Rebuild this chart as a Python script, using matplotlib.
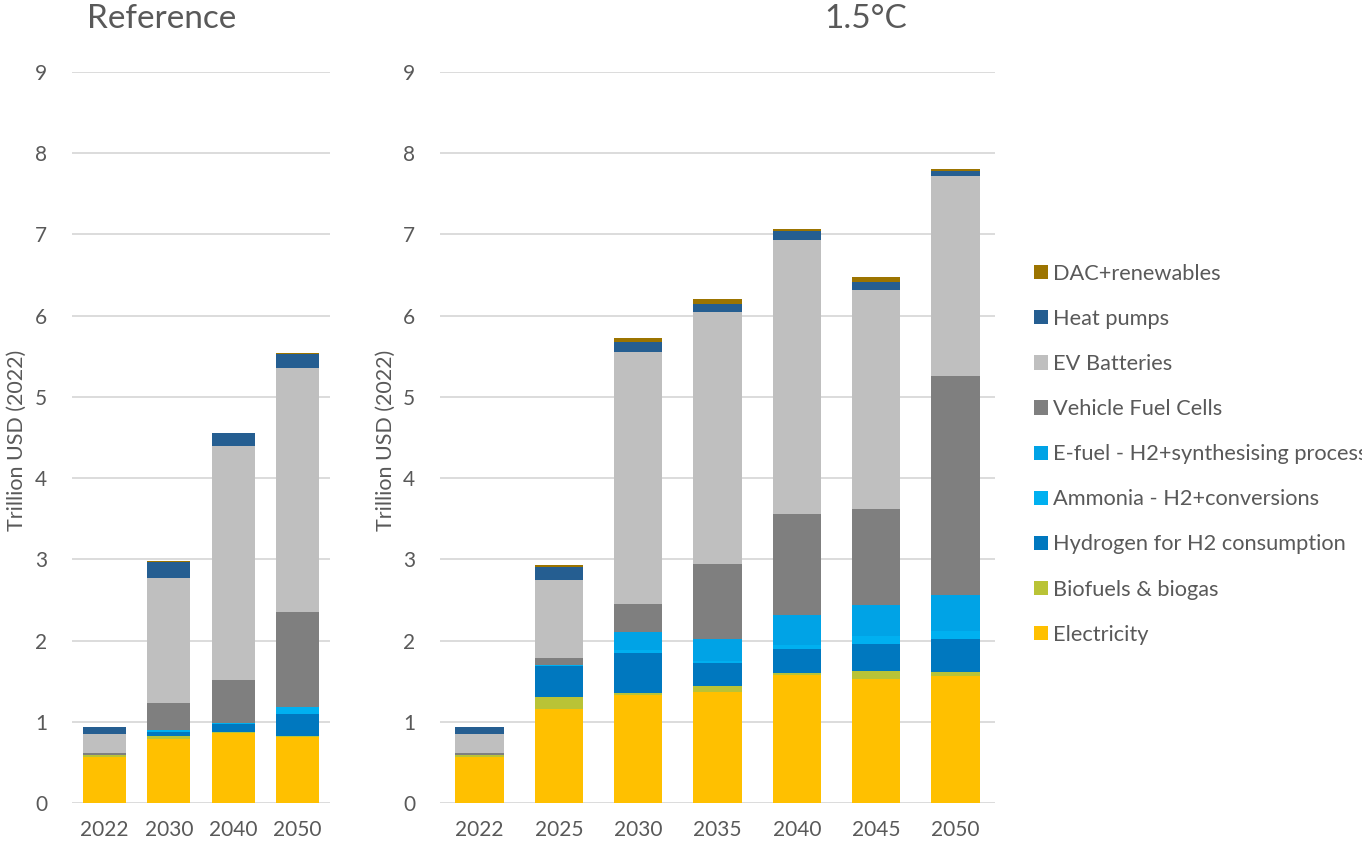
## ============================================================
## Reference vs 1.5°C : stacked bars (Trillion USD 2022)
## ============================================================
import numpy as np
import matplotlib.pyplot as plt
from matplotlib.patches import Patch

plt.rcParams['font.family'] = ['Lato', 'DejaVu Sans']

## ------------------------------------------------------------
## Data
## ------------------------------------------------------------
series_names = ['Electricity', 'Biofuels & biogas', 'Hydrogen for H2 consumption',
                'Ammonia - H2+conversions', 'E-fuel - H2+synthesising process',
                'Vehicle Fuel Cells', 'EV Batteries', 'Heat pumps', 'DAC+renewables']

years_ref       = ['2022', '2030', '2040', '2050']
electricity_ref = [0.57, 0.79, 0.86, 0.81]
biofuels_ref    = [0.02, 0.04, 0.01, 0.02]
hydrogen_ref    = [0.00, 0.04, 0.10, 0.27]
ammonia_ref     = [0.00, 0.03, 0.02, 0.08]
efuel_ref       = [0.00, 0.00, 0.00, 0.00]
fuelcells_ref   = [0.03, 0.33, 0.52, 1.17]
ev_ref          = [0.23, 1.54, 2.89, 3.01]
heat_ref        = [0.09, 0.20, 0.15, 0.17]
dac_ref         = [0.00, 0.01, 0.01, 0.01]

years_15       = ['2022', '2025', '2030', '2035', '2040', '2045', '2050']
electricity_15 = [0.57, 1.16, 1.33, 1.37, 1.57, 1.53, 1.56]
biofuels_15    = [0.02, 0.14, 0.03, 0.07, 0.03, 0.10, 0.05]
hydrogen_15    = [0.00, 0.39, 0.49, 0.28, 0.29, 0.33, 0.41]
ammonia_15     = [0.00, 0.01, 0.03, 0.03, 0.06, 0.09, 0.10]
efuel_15       = [0.00, 0.00, 0.22, 0.27, 0.36, 0.39, 0.44]
fuelcells_15   = [0.03, 0.08, 0.35, 0.92, 1.25, 1.18, 2.70]
ev_15          = [0.23, 0.97, 3.10, 3.11, 3.37, 2.70, 2.46]
heat_15        = [0.09, 0.16, 0.13, 0.09, 0.11, 0.10, 0.06]
dac_15         = [0.00, 0.02, 0.04, 0.06, 0.03, 0.05, 0.03]

colors = ['#FFC000', '#B9C336', '#0078BF', '#00B0F0', '#00A3E6',
          '#7F7F7F', '#BFBFBF', '#255E91', '#9C7400']

TXT  = '#595959'
GRID = '#D9D9D9'

## ------------------------------------------------------------
## Function : draw stacked bars on one axes
## ------------------------------------------------------------
def draw_stack(ax, years, layers, width):
    x = np.arange(len(years))
    bottom = np.zeros(len(years))
    for vals, col in zip(layers, colors):
        vals = np.array(vals)
        ax.bar(x, vals, width, bottom=bottom, color=col, linewidth=0, zorder=3)
        bottom += vals

    ax.set_xlim(-0.5, len(years) - 0.5)
    ax.set_ylim(0, 9)
    ax.set_yticks(range(10))
    ax.set_xticks(x)
    ax.set_xticklabels(years)
    ax.yaxis.grid(True, color=GRID, linewidth=1.3, zorder=0)
    ax.set_axisbelow(True)
    for sp in ax.spines.values():
        sp.set_visible(False)
    ax.tick_params(axis='both', length=0, labelsize=15, colors=TXT)
    ax.tick_params(axis='y', pad=18)
    ax.tick_params(axis='x', pad=12)


fig = plt.figure(figsize=(13.62, 8.49), dpi=100)
W, H = 1362, 849

ax1 = fig.add_axes([72 / W, 1 - 803 / H, 258 / W, 731 / H])
ax2 = fig.add_axes([440 / W, 1 - 803 / H, 555 / W, 731 / H])

draw_stack(ax1, years_ref,
           [electricity_ref, biofuels_ref, hydrogen_ref, ammonia_ref, efuel_ref,
            fuelcells_ref, ev_ref, heat_ref, dac_ref], 0.67)
draw_stack(ax2, years_15,
           [electricity_15, biofuels_15, hydrogen_15, ammonia_15, efuel_15,
            fuelcells_15, ev_15, heat_15, dac_15], 0.61)

## titles and axis labels
fig.text(87 / W, 1 - 19 / H, 'Reference', fontsize=24, color=TXT, ha='left', va='center')
fig.text(824 / W, 1 - 19 / H, '1.5°C', fontsize=24, color=TXT, ha='left', va='center')
fig.text(17 / W, 1 - 440 / H, 'Trillion USD (2022)', fontsize=15.5, color=TXT,
         rotation=90, ha='center', va='center')
fig.text(386 / W, 1 - 440 / H, 'Trillion USD (2022)', fontsize=15.5, color=TXT,
         rotation=90, ha='center', va='center')

## legend (top item = last stacked layer); long label is cut at the edge as in the source
handles = [Patch(facecolor=c, edgecolor='none') for c in colors][::-1]
labels = series_names[::-1]
fig.legend(handles, labels, loc='upper left', bbox_to_anchor=(1034 / W, 1 - 264 / H),
           frameon=False, fontsize=15.7, labelcolor=TXT, handlelength=0.62,
           handleheight=0.62, handletextpad=0.25, labelspacing=1.15, borderpad=0,
           borderaxespad=0)

fig.savefig('out.png', dpi=100)
